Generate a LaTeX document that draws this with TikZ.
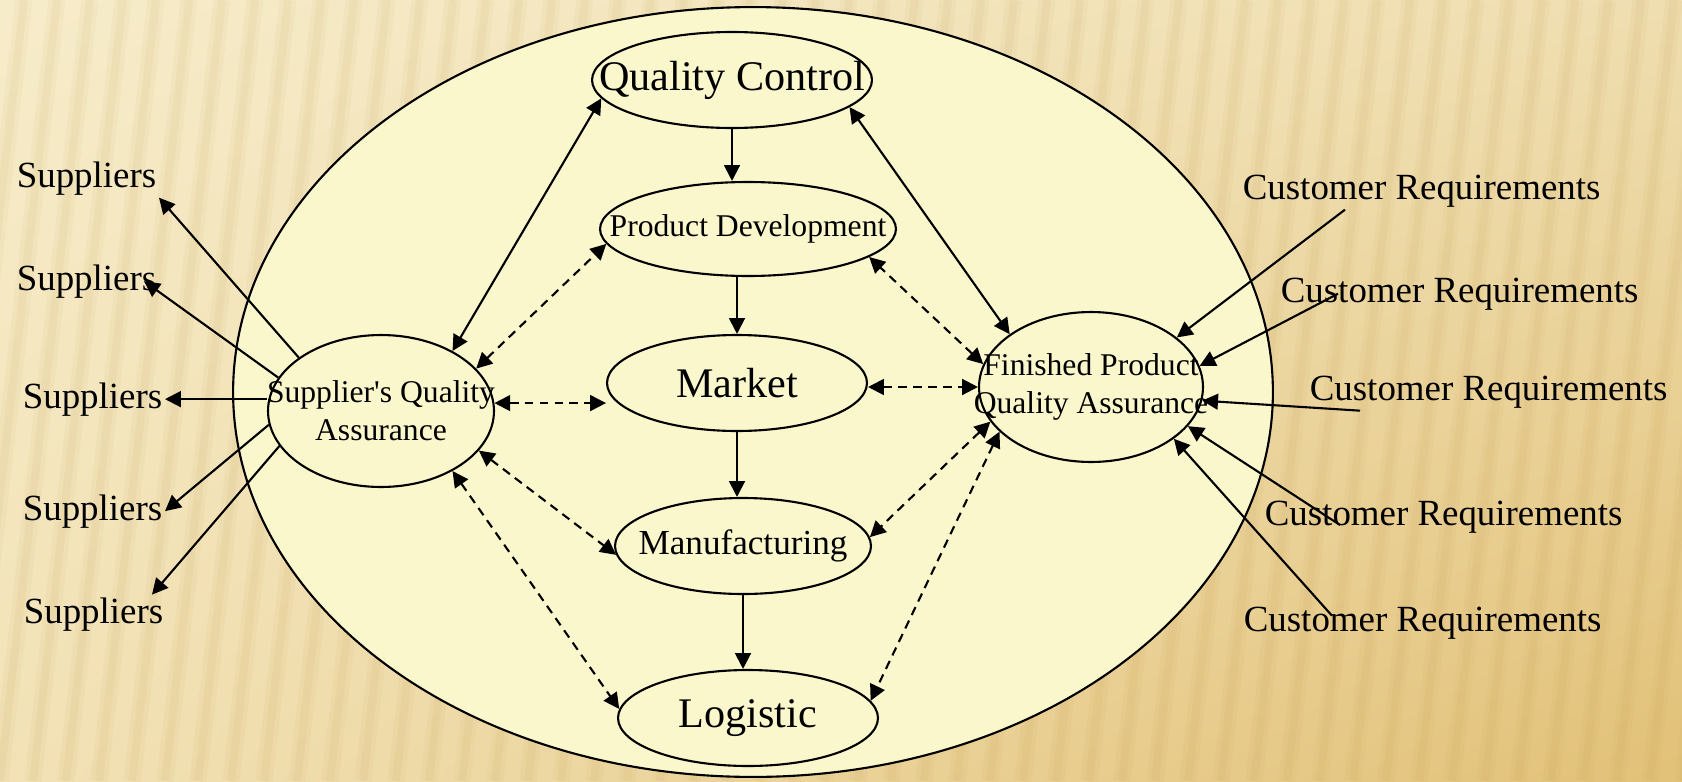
\documentclass[tikz,border=0pt]{standalone}
\usepackage{fontspec}
\setmainfont{Liberation Serif}
\usetikzlibrary{arrows.meta, positioning, shapes, shadings}
\definecolor{cream}{RGB}{251,247,204}
\definecolor{sandA}{RGB}{247,236,202}
\definecolor{sandB}{RGB}{239,222,176}
\definecolor{sandC}{RGB}{242,226,182}
\definecolor{sandD}{RGB}{226,193,120}
\definecolor{stripe}{RGB}{190,150,70}
\tikzset{
    >={Triangle[length=9pt, width=9pt]}, % filled black heads
    dept/.style={ellipse, draw, fill=cream, inner sep=0pt}, % one unit of the firm
    bigtext/.style={font=\fontsize{24}{29}\selectfont},
    midtext/.style={font=\fontsize{20}{24}\selectfont},
    smalltext/.style={font=\fontsize{18}{21.6}\selectfont, align=center},
    extern/.style={font=\fontsize{21}{25}\selectfont, inner sep=1pt, anchor=base west}, % suppliers and customers
    dashlink/.style={dash pattern=on 5pt off 3.5pt}, % dashed exchanges
}

\begin{document}
\begin{tikzpicture}[x=0.02cm, y=-0.02cm, line width=1.2pt]
    \useasboundingbox (0,0) rectangle (1682,781);
    % background
    \shade[upper left=sandA, upper right=sandB, lower left=sandC, lower right=sandD] (0,0) rectangle (1682,781);
    \foreach \i in {-4,...,52} {
        \draw[stripe, line width=0.34cm, opacity=0.06] (\i*33,781) -- (\i*33+90,0);
        \draw[stripe, line width=0.16cm, opacity=0.07] (\i*33,781) -- (\i*33+90,0);
    }

    \node[dept, minimum width=20.8cm, minimum height=15.4cm] (firm) at (753,392) {};

    \node[dept, minimum width=5.6cm, minimum height=1.92cm, label={[bigtext]center:Quality Control}] (qc) at (732,80) {};
    \node[dept, minimum width=5.92cm, minimum height=1.88cm, label={[smalltext]center:Product Development}] (pd) at (748,229) {};
    \node[dept, minimum width=5.2cm, minimum height=1.92cm, label={[bigtext]center:Market}] (mk) at (737,383) {};
    \node[dept, minimum width=5.12cm, minimum height=1.92cm, label={[midtext]center:Manufacturing}] (mf) at (743,546) {};
    \node[dept, minimum width=5.2cm, minimum height=1.92cm, label={[bigtext]center:Logistic}] (lg) at (748,718) {};
    \node[dept, minimum width=4.52cm, minimum height=3.04cm, label={[smalltext]center:Supplier\textquotesingle s Quality\\Assurance}] (spq) at (381,411) {};
    \node[dept, minimum width=4.48cm, minimum height=3.0cm, label={[smalltext]center:Finished Product\\Quality Assurance}] (fpq) at (1091,387) {};

    \node[extern] (s1) at (14,187) {Suppliers};
    \node[extern] (s2) at (14,290) {Suppliers};
    \node[extern] (s3) at (20,408) {Suppliers};
    \node[extern] (s4) at (20,520) {Suppliers};
    \node[extern] (s5) at (21,623) {Suppliers};
    \node[extern] (cr1) at (1240,199) {Customer Requirements};
    \node[extern] (cr2) at (1278,302) {Customer Requirements};
    \node[extern] (cr3) at (1307,400) {Customer Requirements};
    \node[extern] (cr4) at (1262,525) {Customer Requirements};
    \node[extern] (cr5) at (1241,631) {Customer Requirements};

    % solid flows
    \path[<->] (spq.40) edge (qc.188)
        (fpq.147) edge (qc.-13);
    \path[->] (qc.south) edge (qc.south |- pd.north)
        (mk.north |- pd.south) edge (mk.north)
        (mk.south) edge (mk.south |- mf.north)
        (mf.south) edge (mf.south |- lg.north);
    % dashed exchanges
    \path[<->, dashlink] (spq.24) edge (pd.186)
        (fpq.168) edge (pd.-13)
        (spq.4) edge (spq.4 -| mk.west)
        (fpq.west -| mk.east) edge (fpq.west)
        (spq.-22) edge (mf.184)
        (spq.-40) edge (lg.176)
        (fpq.199) edge (mf.4)
        (fpq.206) edge (lg.8);
    % suppliers
    \path[->] (spq.147) edge (s1.south east)
        (spq.162) edge ([xshift=-0.3cm]s2.east)
        (s3.east -| spq.west) edge (s3.east)
        (spq.187) edge (s4.east)
        (spq.199) edge ([xshift=-0.28cm]s5.north east);
    % customer requirements
    \path[->] ([xshift=2.1cm]cr1.south west) edge (fpq.30)
        ([xshift=1.2cm]cr2.west) edge (fpq.11)
        ([xshift=1.06cm]cr3.south west) edge (fpq.-7)
        ([xshift=1.56cm]cr4.base west) edge (fpq.-22)
        ([xshift=1.82cm,yshift=0.14cm]cr5.west) edge (fpq.-32);
\end{tikzpicture}
\end{document}
